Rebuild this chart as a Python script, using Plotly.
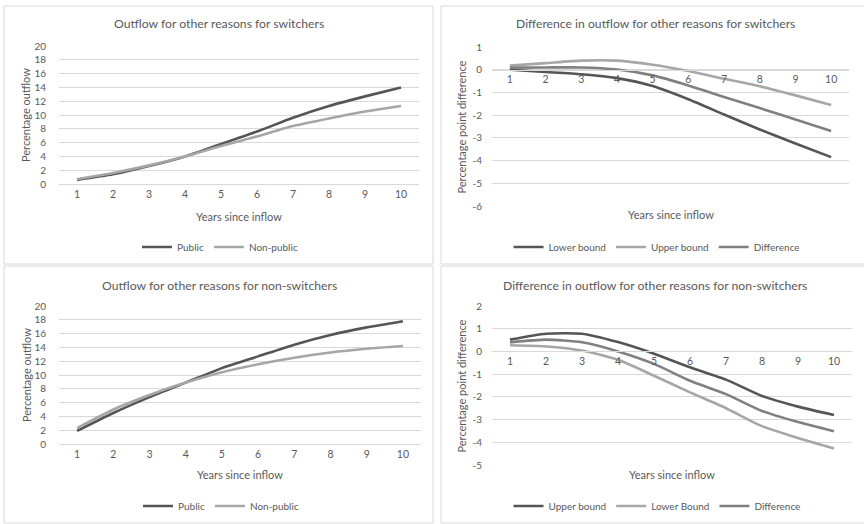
import plotly.graph_objects as go

years = list(range(1, 11))
x_tick_labels = [str(v) for v in years]

# Panel 1: switchers
sw_public = [0.6, 1.4, 2.6, 4.0, 5.8, 7.6, 9.6, 11.3, 12.7, 14.0]
sw_nonpublic = [0.7, 1.6, 2.7, 4.0, 5.5, 6.9, 8.4, 9.5, 10.5, 11.3]

# Panel 2: difference for switchers
sw_lower = [0.0, -0.1, -0.2, -0.37, -0.72, -1.3, -1.97, -2.63, -3.25, -3.85]
sw_upper = [0.18, 0.29, 0.4, 0.4, 0.22, -0.06, -0.4, -0.73, -1.13, -1.55]
sw_diff = [0.09, 0.1, 0.1, 0.01, -0.25, -0.69, -1.2, -1.69, -2.19, -2.7]

# Panel 3: non-switchers
ns_public = [1.9, 4.5, 6.8, 8.9, 11.0, 12.7, 14.4, 15.8, 16.9, 17.8]
ns_nonpublic = [2.3, 5.0, 7.1, 8.9, 10.4, 11.55, 12.5, 13.25, 13.8, 14.2]

# Panel 4: difference for non-switchers
ns_upper = [0.52, 0.78, 0.78, 0.41, -0.1, -0.7, -1.24, -1.96, -2.43, -2.8]
ns_lower = [0.27, 0.22, 0.04, -0.37, -1.07, -1.8, -2.5, -3.29, -3.81, -4.27]
ns_diff = [0.4, 0.52, 0.4, 0.0, -0.55, -1.29, -1.88, -2.62, -3.11, -3.51]

# Y tick values per panel
yticks_outflow = [0, 2, 4, 6, 8, 10, 12, 14, 16, 18, 20]
yticks_diff_sw = [-6, -5, -4, -3, -2, -1, 0, 1]
yticks_diff_ns = [-5, -4, -3, -2, -1, 0, 1, 2]

titles = [
    "Outflow for other reasons for switchers",
    "Difference in outflow for other reasons for switchers",
    "Outflow for other reasons for non-switchers",
    "Difference in outflow for other reasons for non-switchers",
]
y_titles = ["Percentage outflow", "Percentage point difference",
            "Percentage outflow", "Percentage point difference"]
x_title = "Years since inflow"

W, H = 864, 524
FONT = "Lato, Calibri, 'Open Sans', sans-serif"
TXT = "#595959"
GRID = "#d9d9d9"
DARK = "#555555"
LIGHT = "#a6a6a6"
MID = "#808080"


def fx(p):
    return p / W


def fy(p):
    return 1 - p / H


panels = [
    dict(x0=59, x1=419, top=46, bottom=184, yr=[0, 20], yt=yticks_outflow, tl=10,
         series=[("Public", sw_public, DARK), ("Non-public", sw_nonpublic, LIGHT)],
         box=(4, 433, 6, 264), title_xy=(219, 24), ytx=26, xtitle_y=216, leg=(220, 247)),
    dict(x0=492, x1=849, top=47, bottom=206, yr=[-6, 1], yt=yticks_diff_sw, tl=7,
         series=[("Lower bound", sw_lower, DARK), ("Upper bound", sw_upper, LIGHT),
                 ("Difference", sw_diff, MID)],
         box=(441, 872, 6, 264), title_xy=(655, 24), ytx=461, xtitle_y=215, leg=(657, 247)),
    dict(x0=59, x1=421, top=306, bottom=444, yr=[0, 20], yt=yticks_outflow, tl=10,
         series=[("Public", ns_public, DARK), ("Non-public", ns_nonpublic, LIGHT)],
         box=(4, 433, 266, 523), title_xy=(219, 285), ytx=26, xtitle_y=474, leg=(221, 506)),
    dict(x0=492, x1=852, top=306, bottom=465, yr=[-5, 2], yt=yticks_diff_ns, tl=7,
         series=[("Upper bound", ns_upper, DARK), ("Lower Bound", ns_lower, LIGHT),
                 ("Difference", ns_diff, MID)],
         box=(441, 872, 266, 523), title_xy=(655, 285), ytx=461, xtitle_y=474, leg=(657, 506)),
]

fig = go.Figure()
layout = {}
annotations = []
shapes = []

for i, p in enumerate(panels, start=1):
    sfx = "" if i == 1 else str(i)
    xa, ya = "x" + sfx, "y" + sfx
    legname = "legend" + sfx
    for name, vals, col in p["series"]:
        fig.add_trace(go.Scatter(
            x=years, y=vals, name=name, mode="lines",
            line=dict(color=col, width=2.6, shape="spline", smoothing=0.6),
            xaxis=xa, yaxis=ya, legend=legname,
        ))
    ydom = [fy(p["bottom"]), fy(p["top"])]
    ymin, ymax = p["yr"]
    xaxis = dict(
        domain=[fx(p["x0"]), fx(p["x1"])], range=[0.5, 10.5], automargin=False,
        tickmode="array", tickvals=years, ticktext=x_tick_labels,
        showgrid=False, zeroline=False, showline=True, linecolor=GRID, linewidth=1,
        ticks="", tickfont=dict(family=FONT, size=10.5, color=TXT), fixedrange=True,
    )
    if ymin < 0:
        pos = ydom[0] + (0 - ymin) / (ymax - ymin) * (ydom[1] - ydom[0])
        xaxis.update(anchor="free", position=pos)
    else:
        xaxis.update(anchor=ya)
    layout["xaxis" + sfx] = xaxis
    layout["yaxis" + sfx] = dict(
        domain=ydom, range=[ymin, ymax], anchor=xa, automargin=False,
        tickmode="array", tickvals=p["yt"], ticktext=[str(v) for v in p["yt"]],
        showgrid=True, gridcolor=GRID, gridwidth=1, zeroline=False, showline=False,
        ticks="outside", ticklen=p["tl"], tickcolor="rgba(0,0,0,0)",
        tickfont=dict(family=FONT, size=10, color=TXT), fixedrange=True,
    )
    layout[legname] = dict(
        orientation="h", x=fx(p["leg"][0]), y=fy(p["leg"][1]),
        xanchor="center", yanchor="middle", bgcolor="rgba(0,0,0,0)",
        font=dict(family=FONT, size=10, color=TXT), itemwidth=30,
        tracegroupgap=0,
    )
    bx0, bx1, by0, by1 = p["box"]
    shapes.append(dict(type="rect", xref="paper", yref="paper",
                       x0=fx(bx0), x1=fx(bx1), y0=fy(by1), y1=fy(by0),
                       line=dict(color=GRID, width=1), fillcolor="rgba(0,0,0,0)", layer="below"))
    annotations.append(dict(text=titles[i - 1], xref="paper", yref="paper",
                            x=fx(p["title_xy"][0]), y=fy(p["title_xy"][1]),
                            xanchor="center", yanchor="middle", showarrow=False,
                            font=dict(family=FONT, size=12.2, color=TXT)))
    annotations.append(dict(text=y_titles[i - 1], xref="paper", yref="paper",
                            x=fx(p["ytx"]), y=(ydom[0] + ydom[1]) / 2, textangle=-90,
                            xanchor="center", yanchor="middle", showarrow=False,
                            font=dict(family=FONT, size=11, color=TXT)))
    annotations.append(dict(text=x_title, xref="paper", yref="paper",
                            x=(fx(p["x0"]) + fx(p["x1"])) / 2, y=fy(p["xtitle_y"]),
                            xanchor="center", yanchor="middle", showarrow=False,
                            font=dict(family=FONT, size=11, color=TXT)))

fig.update_layout(
    width=W, height=H, margin=dict(l=0, r=0, t=0, b=0, pad=0, autoexpand=False),
    paper_bgcolor="white", plot_bgcolor="white",
    annotations=annotations, shapes=shapes, **layout,
)

fig.write_html(
    "out.html",
    config={"displayModeBar": False},
    post_script="document.body.style.margin='0';document.body.style.overflow='hidden';",
)
